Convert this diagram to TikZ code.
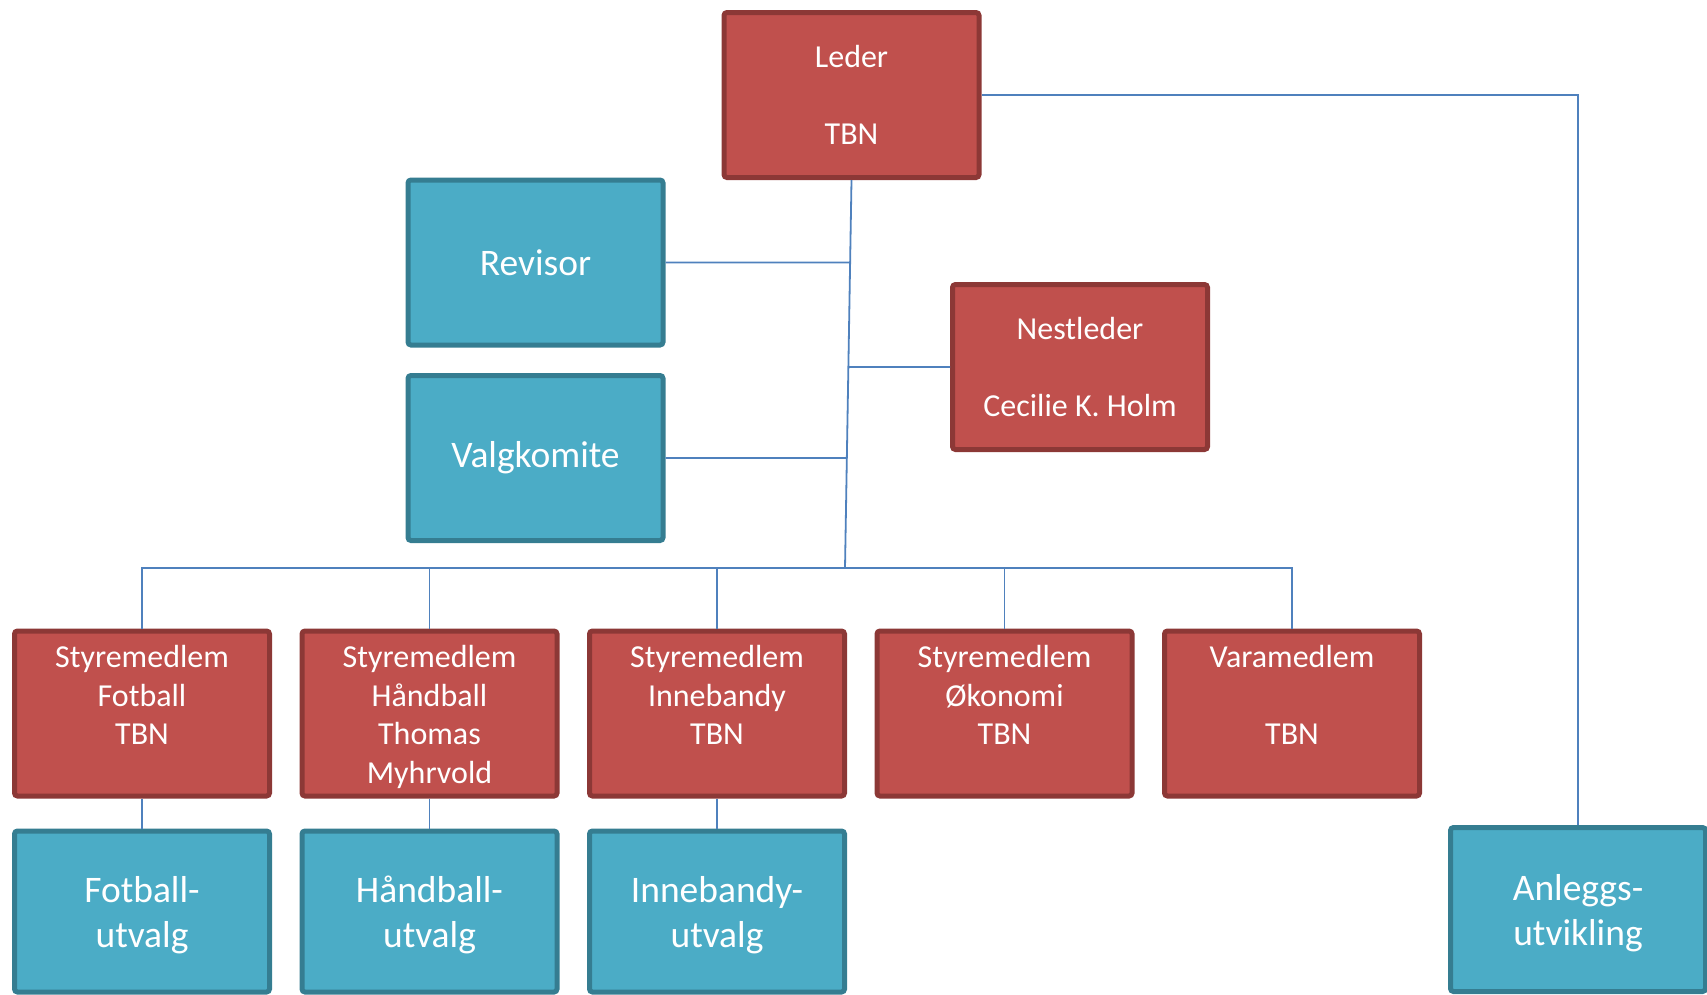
\documentclass[tikz,border=0pt]{standalone}
\usepackage{fontspec}
\setmainfont{Carlito}
\usetikzlibrary{positioning, calc}
\definecolor{boardred}{HTML}{C0504D}
\definecolor{boardredline}{HTML}{8C3836}
\definecolor{groupblue}{HTML}{4BACC6}
\definecolor{groupblueline}{HTML}{357D91}
\definecolor{linkblue}{HTML}{4F81BD}

\newcommand{\toptext}[1]{\parbox[c][150pt][t]{250pt}{\centering\rule{0pt}{29pt}#1}}
\newcommand{\lowtext}[1]{\parbox{250pt}{\centering\vspace*{7pt}#1}}

\begin{document}
\begin{tikzpicture}[x=1pt, y=-1pt,
    redbox/.style={draw=boardredline, line width=5pt, fill=boardred, rounded corners=3pt,
        minimum width=255pt, minimum height=165pt, inner sep=0pt, align=center, text=white,
        font=\fontsize{32}{38.5}\selectfont},
    bluebox/.style={draw=groupblueline, line width=5pt, fill=groupblue, rounded corners=3pt,
        minimum width=255pt, minimum height=161pt, inner sep=0pt, align=center, text=white,
        font=\fontsize{37.5}{45}\selectfont},
    link/.style={draw=linkblue, line width=1.8pt}]
    \useasboundingbox (0,0) rectangle (1707,994);

    % Top: leader, auditor, election committee, deputy
    \node[redbox] (leder) at (851.5,95) {Leder\\[38pt]TBN};
    \node[bluebox, minimum height=165pt] (revisor) at (535.5,262.5) {Revisor};
    \node[bluebox, minimum height=165pt] (valgkomite) at (535.5,458) {Valgkomite};
    \node[redbox] (nestleder) at (1080,367) {Nestleder\\[38pt]Cecilie K. Holm};

    % Board members
    \node[redbox] (fotball) at (142,713.5) {\toptext{Styremedlem\\Fotball\\TBN}};
    \node[redbox, right=27.5pt of fotball] (haandball) {\toptext{Styremedlem\\Håndball\\Thomas\\Myhrvold}};
    \node[redbox, right=27.5pt of haandball] (innebandy) {\toptext{Styremedlem\\Innebandy\\TBN}};
    \node[redbox, right=27.5pt of innebandy] (okonomi) {\toptext{Styremedlem\\Økonomi\\TBN}};
    \node[redbox, right=27.5pt of okonomi] (vara) {\toptext{Varamedlem\\[38pt]TBN}};

    % Committees
    \node[bluebox, below=30pt of fotball] (fotballutvalg) {\lowtext{Fotball-\\utvalg}};
    \node[bluebox, below=30pt of haandball] (haandballutvalg) {\lowtext{Håndball-\\utvalg}};
    \node[bluebox, below=30pt of innebandy] (innebandyutvalg) {\lowtext{Innebandy-\\utvalg}};
    \node[bluebox, minimum height=164pt] (anlegg) at (1578,909.5) {\lowtext{Anleggs-\\utvikling}};

    % Connectors
    \coordinate (bus) at (845,568);
    \coordinate (revisorend) at (revisor.east -| nestleder.west);
    \coordinate (valgend) at (valgkomite.east -| nestleder.west);
    \coordinate (nestend) at (nestleder.west -| revisor.east);
    \draw[link] (leder.south) -- (bus);
    \draw[link] (revisor.east) -- (intersection of leder.south--bus and revisor.east--revisorend);
    \draw[link] (valgkomite.east) -- (intersection of leder.south--bus and valgkomite.east--valgend);
    \draw[link] (intersection of leder.south--bus and nestleder.west--nestend) -- (nestleder.west);
    \draw[link] (fotball.north) |- (bus) -| (vara.north);
    \foreach \n in {haandball, innebandy, okonomi}
        \draw[link] (\n.north) -- (\n.north |- bus);
    \foreach \a/\b in {fotball/fotballutvalg, haandball/haandballutvalg, innebandy/innebandyutvalg}
        \draw[link] (\a) -- (\b);
    \draw[link] (leder.east) -| (anlegg.north);
\end{tikzpicture}
\end{document}
